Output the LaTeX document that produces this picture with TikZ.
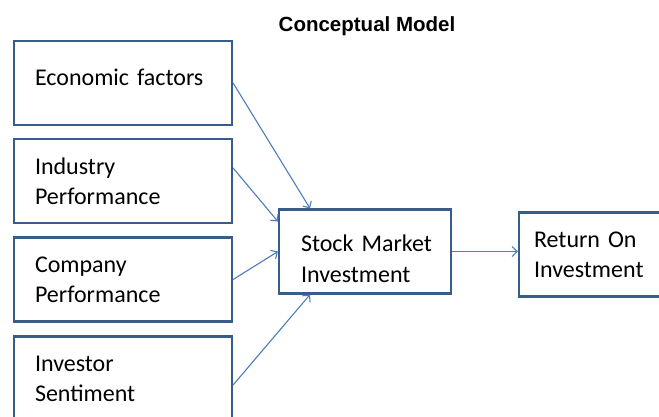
\documentclass[tikz,border=0pt]{standalone}
\usepackage{fontspec}
\setmainfont{Carlito}
\newfontfamily\titlefont{Liberation Sans}
\usetikzlibrary{arrows.meta}
\definecolor{boxline}{HTML}{385D8A}
\definecolor{arrowline}{HTML}{4A7EBB}
\begin{document}
\begin{tikzpicture}[x=1pt,y=-1pt]
\tikzset{factor/.style={draw=boxline,line width=2.2pt,minimum height=84pt,inner xsep=21pt,text width=176pt,align=left,font=\fontsize{24}{30}\selectfont}}
\tikzset{link/.style={draw=arrowline,line width=1.1pt,-{Straight Barb[length=5pt,width=10pt]}}}
\clip (0,0) rectangle (659,416);
\node (title) at (367,26.5) {\titlefont\bfseries\fontsize{20.5}{24}\selectfont Conceptual Model};
% factors on the left
\node[factor,text depth=11pt] (eco) at (123,83) {Economic factors};
\node[factor] (ind) at (123,181) {Industry\\Performance};
\node[factor] (com) at (123,279.5) {Company\\Performance};
\node[factor] (inv) at (123,378.5) {Investor\\Sentiment};
% investment and return
\node[factor,inner xsep=22pt,text width=128pt,text height=31pt,font=\fontsize{24}{31.5}\selectfont] (stock) at (365,251.5) {\mbox{Stock Market}\\Investment};
\node[factor,inner xsep=15pt,text width=142pt] (ret) at (605,254.5) {\mbox{Return On}\\Investment};
\draw[link] (eco.east) -- ([xshift=-55pt]stock.north);
\draw[link] ([yshift=13pt]ind.east) -- ([yshift=30pt]stock.west);
\draw[link] (com.east) -- (stock.west);
\draw[link] ([yshift=-6.5pt]inv.east) -- ([xshift=-55pt]stock.south);
\draw[link] (stock.east) -- (stock.east -| ret.west);
\end{tikzpicture}
\end{document}
